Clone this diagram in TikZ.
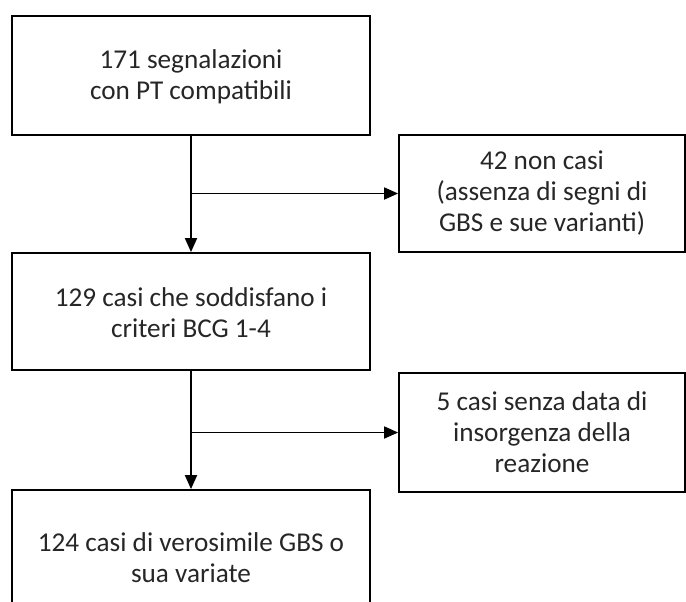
\documentclass[tikz,border=0pt]{standalone}
\usepackage{fontspec}
\setmainfont{Carlito}
\usetikzlibrary{arrows.meta}

\tikzset{
  box/.style={draw,line width=0.9pt,rectangle,align=center,text=black!85,font=\fontsize{13.6}{15.5}\selectfont},
  flow/.style={line width=0.9pt,-{Triangle[length=7pt,width=6pt]}}
}

\begin{document}
\begin{tikzpicture}[x=0.5pt,y=-0.5pt]
\useasboundingbox (0,0) rectangle (686,601);
\clip (0,0) rectangle (686,601);
\node[box,minimum width=179pt,minimum height=59.5pt] (seg) at (191,75.5) {\strut171 segnalazioni\\con PT compatibili};
\node[box,minimum width=143pt,minimum height=58.5pt] (noncasi) at (542,193.5) {42 non casi\\(assenza di segni di\\GBS e sue varianti)};
\node[box,minimum width=179pt,minimum height=58.5pt] (criteri) at (191,311.5) {\strut129 casi che soddisfano i\\criteri BCG 1-4};
\node[box,minimum width=143pt,minimum height=59.5pt] (senzadata) at (542,432.5) {5 casi senza data di\\insorgenza della\\reazione};
\node[box,minimum width=179pt,minimum height=68pt] (verosimili) at (191,558) {124 casi di verosimile GBS o\\sua variate};
\coordinate (j1) at (191,193.5);
\coordinate (j2) at (191,432.5);
\draw[flow] (seg.south) -- (criteri.north);
\draw[flow] (j1) -- (noncasi.west);
\draw[flow] (criteri.south) -- (verosimili.north);
\draw[flow] (j2) -- (senzadata.west);
\end{tikzpicture}
\end{document}
